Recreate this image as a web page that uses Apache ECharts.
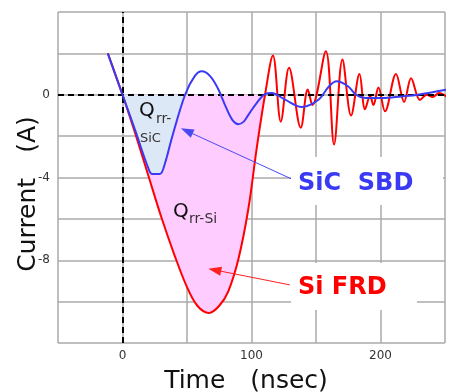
<!DOCTYPE html>
<html>
<head>
<meta charset="utf-8">
<script src="https://cdn.jsdelivr.net/npm/echarts@6/dist/echarts.min.js"></script>
<style>
  html, body { margin: 0; padding: 0; background: #fff; }
  #chart { width: 449px; height: 392px; }
</style>
</head>
<body>
<div id="chart"></div>
<script>
// Si FRD recovery current (red)
const redTime = [-11.4, 0, 10, 20, 30, 40, 50, 58, 67, 75, 82, 90, 97.6, 104, 110.5,
  116.6, 122.7, 129.1, 138.2, 143.6, 147.2, 157.6, 164, 170.5, 177.2, 183.7, 188,
  192, 194.5, 198.4, 203.5, 212, 218.3, 223.7, 230.6, 235.8, 240.5, 245.4, 251];
const redCurrent = [2.0, 0, -1.9, -3.9, -5.9, -7.7, -9.3, -10.2, -10.55, -10.2, -9.5, -7.9, -5.5, -2.6, 0,
  1.9, -1.3, 1.3, -1.6, 0.25, -0.5, 2.1, -2.4, 1.7, -1.0, 1.0, -0.7,
  -0.05, -0.5, 0.35, -0.8, 1.0, -0.35, 0.8, -0.25, 0, -0.11, 0.08, -0.08];

// SiC SBD recovery current (blue)
const blueTime = [-11.4, 0, 10, 20, 23, 29, 33, 38.2, 48.5, 56, 61.5, 67.9, 74, 79.5, 85, 89.9,
  94, 97.6, 104, 110.5, 115.7, 126, 139, 151.9, 160, 166, 175, 181, 188, 201, 216.5, 229, 251];
const blueCurrent = [2.0, 0, -1.75, -3.55, -3.83, -3.83, -3.3, -2.1, 0, 0.9, 1.13, 0.9, 0.3, -0.5, -1.2, -1.42,
  -1.3, -0.97, -0.4, 0.03, 0.08, -0.24, -0.59, -0.24, 0.4, 0.65, 0.4, 0, -0.16, -0.16, -0.08, 0, 0.24];

// axis ticks
const xLabels = [0, 100, 200];
const yLabels = [0, -4, -8];

// shaded Qrr windows
const redFillRange = [0, 110.5];
const blueFillRange = [0, 48.5];

const pairs = (xs, ys) => xs.map((x, i) => [x, ys[i]]);
const within = (pts, r) => pts.filter(p => p[0] >= r[0] && p[0] <= r[1]);

const redPts = pairs(redTime, redCurrent);
const bluePts = pairs(blueTime, blueCurrent);

const chart = echarts.init(document.getElementById('chart'));
const font = '"DejaVu Sans", "Noto Sans CJK JP", sans-serif';
const SMOOTH = 0.35;

const option = {
  animation: false,
  grid: { left: 58, right: 4, top: 12, bottom: 49 },
  xAxis: {
    type: 'value',
    min: -50, max: 250, interval: 50,
    axisLine: { show: false },
    axisTick: { show: false },
    axisLabel: {
      margin: 7,
      color: '#333',
      fontSize: 12,
      fontFamily: font,
      formatter: v => xLabels.includes(v) ? String(v) : ''
    },
    splitLine: { show: true, lineStyle: { color: '#aaa', width: 1.5 } }
  },
  yAxis: {
    type: 'value',
    min: -12, max: 4, interval: 2,
    axisLine: { show: false },
    axisTick: { show: false },
    axisLabel: {
      margin: 8,
      color: '#333',
      fontSize: 12,
      fontFamily: font,
      formatter: v => yLabels.includes(v) ? String(v) : ''
    },
    splitLine: { show: true, lineStyle: { color: '#aaa', width: 1.5 } }
  },
  series: [
    {
      name: 'Qrr-Si',
      type: 'line',
      smooth: SMOOTH,
      symbol: 'none',
      data: within(redPts, redFillRange),
      lineStyle: { width: 0, opacity: 0 },
      areaStyle: { color: '#ffccff', opacity: 1 },
      z: 2
    },
    {
      name: 'Qrr-SiC',
      type: 'line',
      smooth: SMOOTH,
      symbol: 'none',
      data: within(bluePts, blueFillRange),
      lineStyle: { width: 0, opacity: 0 },
      areaStyle: { color: '#dce8f5', opacity: 1 },
      z: 3
    },
    {
      name: 'Si FRD',
      type: 'line',
      smooth: SMOOTH,
      symbol: 'none',
      data: redPts,
      lineStyle: { color: '#ff0000', width: 2 },
      z: 4,
      markLine: {
        silent: true,
        symbol: ['none', 'triangle'],
        symbolSize: [9, 13],
        label: { show: false },
        lineStyle: { color: '#ff2020', width: 1, type: 'solid' },
        data: [[{ coord: [129.7, -9.19] }, { coord: [71.5, -8.47] }]]
      }
    },
    {
      name: 'SiC SBD',
      type: 'line',
      smooth: SMOOTH,
      symbol: 'none',
      data: bluePts,
      lineStyle: { color: '#3a3af5', width: 2 },
      z: 5,
      markLine: {
        silent: true,
        symbol: 'none',
        label: { show: false },
        lineStyle: { color: '#000', width: 2, type: [6, 4] },
        data: [{ xAxis: 0 }, { yAxis: 0 }]
      }
    },
    {
      name: 'arrow',
      type: 'line',
      data: [],
      z: 6,
      markLine: {
        silent: true,
        symbol: ['none', 'triangle'],
        symbolSize: [9, 13],
        label: { show: false },
        lineStyle: { color: '#4a4af5', width: 1, type: 'solid' },
        data: [[{ coord: [132.8, -4.12] }, { coord: [49.8, -1.75] }]]
      }
    }
  ],
  graphic: [
    // white boxes behind the labels
    { type: 'rect', shape: { x: 291, y: 157, width: 152, height: 48 }, style: { fill: '#fff' }, z: 50 },
    { type: 'rect', shape: { x: 291, y: 263, width: 126, height: 47 }, style: { fill: '#fff' }, z: 50 },
    { type: 'text', x: 298, y: 184, z: 60,
      style: { text: 'SiC  SBD', fill: '#3a3af5', font: 'bold 24px ' + font, verticalAlign: 'middle' } },
    { type: 'text', x: 298, y: 288, z: 60,
      style: { text: 'Si FRD', fill: '#ff0000', font: 'bold 24px ' + font, verticalAlign: 'middle' } },
    // Qrr-SiC
    { type: 'text', x: 139, y: 111, z: 60,
      style: { text: 'Q', fill: '#111', font: '20px ' + font, verticalAlign: 'middle' } },
    { type: 'text', x: 156, y: 119, z: 60,
      style: { text: 'rr-', fill: '#333', font: '14px ' + font, verticalAlign: 'middle' } },
    { type: 'text', x: 140, y: 139, z: 60,
      style: { text: 'SiC', fill: '#333', font: '13px ' + font, verticalAlign: 'middle' } },
    // Qrr-Si
    { type: 'text', x: 173, y: 212, z: 60,
      style: { text: 'Q', fill: '#111', font: '20px ' + font, verticalAlign: 'middle' } },
    { type: 'text', x: 189, y: 219, z: 60,
      style: { text: 'rr-Si', fill: '#333', font: '14px ' + font, verticalAlign: 'middle' } },
    // axis names
    { type: 'text', x: 246, y: 381, z: 60,
      style: { text: 'Time\u3000(nsec)', fill: '#111', font: '25px ' + font, align: 'center', verticalAlign: 'middle' } },
    { type: 'text', x: 28, y: 194, rotation: Math.PI / 2, z: 60,
      style: { text: 'Current\u3000(A)', fill: '#111', font: '25px ' + font, align: 'center', verticalAlign: 'middle' } }
  ]
};

chart.setOption(option);
</script>
</body>
</html>
